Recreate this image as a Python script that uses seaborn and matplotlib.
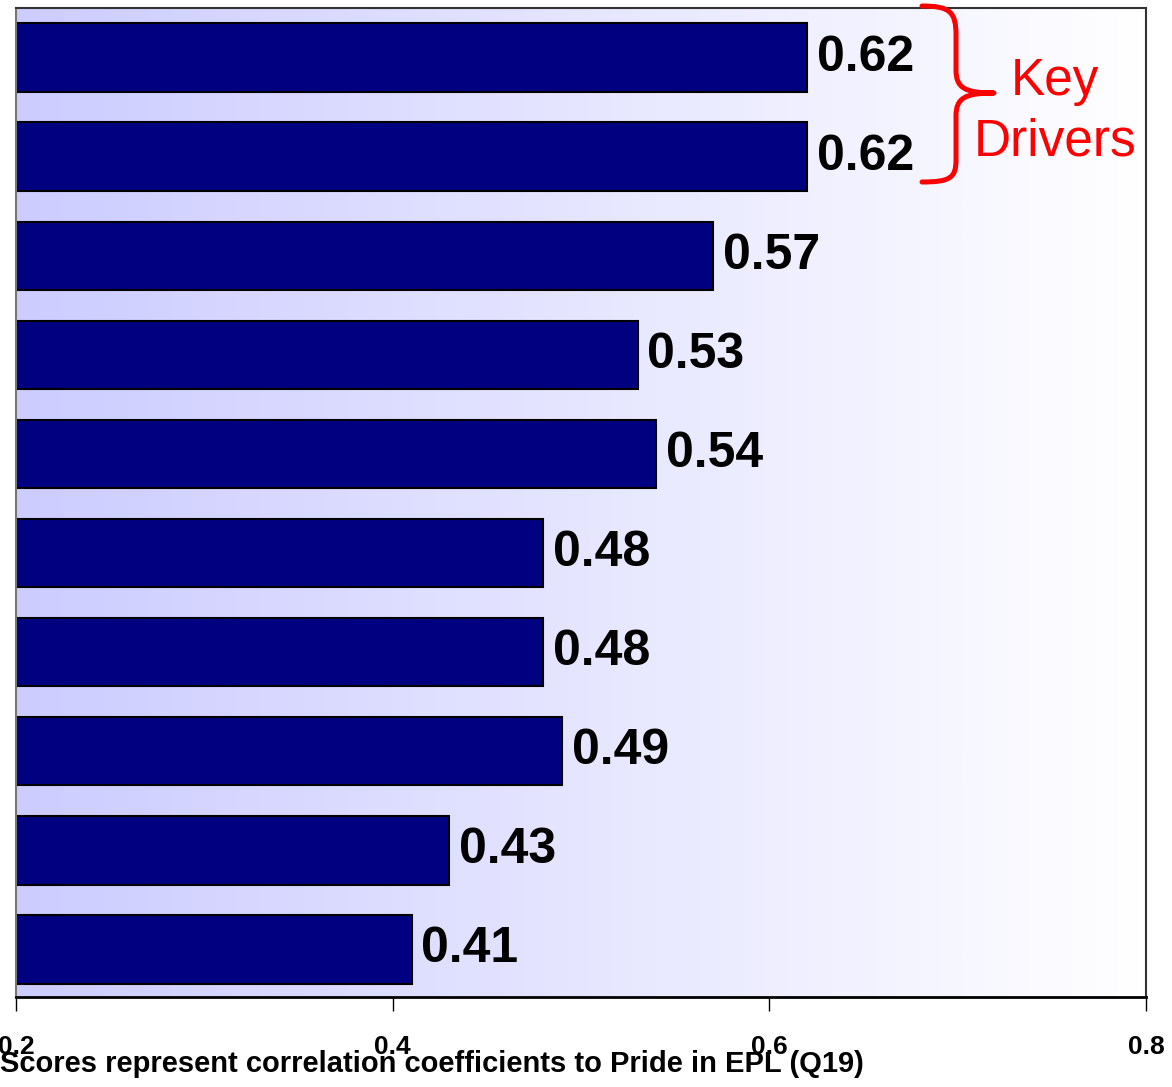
import numpy as np
import pandas as pd
import matplotlib
matplotlib.use("Agg")
import matplotlib.pyplot as plt
from matplotlib.path import Path
from matplotlib.patches import PathPatch
from matplotlib.colors import LinearSegmentedColormap
import matplotlib.transforms as mtransforms
import seaborn as sns

# ---- data ----
categories = ["Driver 1", "Driver 2", "Driver 3", "Driver 4", "Driver 5",
              "Driver 6", "Driver 7", "Driver 8", "Driver 9", "Driver 10"]
scores = [0.62, 0.62, 0.57, 0.53, 0.54, 0.48, 0.48, 0.49, 0.43, 0.41]
x_ticks = [0.2, 0.4, 0.6, 0.8]
x_tick_labels = ["0.2", "0.4", "0.6", "0.8"]
caption = "Scores represent correlation coefficients to Pride in EPL (Q19)"
annotation_lines = ["Key", "Drivers"]

sns.set_theme(style="white")
plt.rcParams["font.family"] = ["Liberation Sans", "DejaVu Sans"]

W, H = 1172, 1087
fig = plt.figure(figsize=(W / 100, H / 100), dpi=100)
ax = fig.add_axes([16 / W, (H - 997) / H, 1130 / W, 989 / H])

df = pd.DataFrame({"category": categories, "score": scores})

# gradient background
cmap = LinearSegmentedColormap.from_list("bg", ["#ccccff", "#ffffff"])
grad = np.linspace(0, 1, 256).reshape(1, -1)
ax.imshow(grad, cmap=cmap, aspect="auto", extent=[0.2, 0.8, 9.48, -0.5],
          zorder=0, interpolation="bicubic")

sns.barplot(data=df, x="score", y="category", orient="h", color="#000080",
            saturation=1, edgecolor="black", linewidth=1.5, width=0.69,
            ax=ax, zorder=2)

ax.set_xlim(0.2, 0.8)
ax.set_ylim(9.48, -0.5)
ax.set_xticks(x_ticks)
ax.set_xticklabels(x_tick_labels, fontsize=19, fontweight="bold")
ax.set_yticks([])
ax.set_xlabel("")
ax.set_ylabel("")
ax.tick_params(axis="x", direction="out", length=10, width=1, pad=17,
               colors="black", bottom=True)

for side in ["top", "right"]:
    ax.spines[side].set_color("#333333")
    ax.spines[side].set_linewidth(1.5)
ax.spines["left"].set_color("#777777")
ax.spines["left"].set_linewidth(1.5)
ax.spines["bottom"].set_color("black")
ax.spines["bottom"].set_linewidth(2)

ax.bar_label(ax.containers[0], fmt="%.2f", padding=7, fontsize=36,
             fontweight="bold", color="black")

# caption
fig.text(0.0, 1 - 1072 / H, caption, ha="left", va="baseline",
         fontsize=21, fontweight="bold", color="black")

# red brace annotation (pixel coordinates, y down)
pix = mtransforms.Affine2D().scale(1 / W, -1 / H).translate(0, 1) + fig.transFigure
verts = [(922, 6), (950, 6), (956, 12), (956, 35),
         (956, 70),
         (956, 88), (965, 93), (994, 93),
         (965, 93), (956, 98), (956, 116),
         (956, 160),
         (956, 178), (950, 182), (922, 182)]
codes = [Path.MOVETO, Path.CURVE4, Path.CURVE4, Path.CURVE4,
         Path.LINETO,
         Path.CURVE4, Path.CURVE4, Path.CURVE4,
         Path.CURVE4, Path.CURVE4, Path.CURVE4,
         Path.LINETO,
         Path.CURVE4, Path.CURVE4, Path.CURVE4]
brace = PathPatch(Path(verts, codes), transform=pix, fill=False,
                  edgecolor="#ff0000", linewidth=3.6, capstyle="round",
                  joinstyle="round", clip_on=False)
fig.add_artist(brace)
for line, base in zip(annotation_lines, [95, 156]):
    fig.text(1055 / W, 1 - base / H, line, ha="center", va="baseline",
             fontsize=37, color="#ff0000")

fig.savefig("out.png", dpi=100)
